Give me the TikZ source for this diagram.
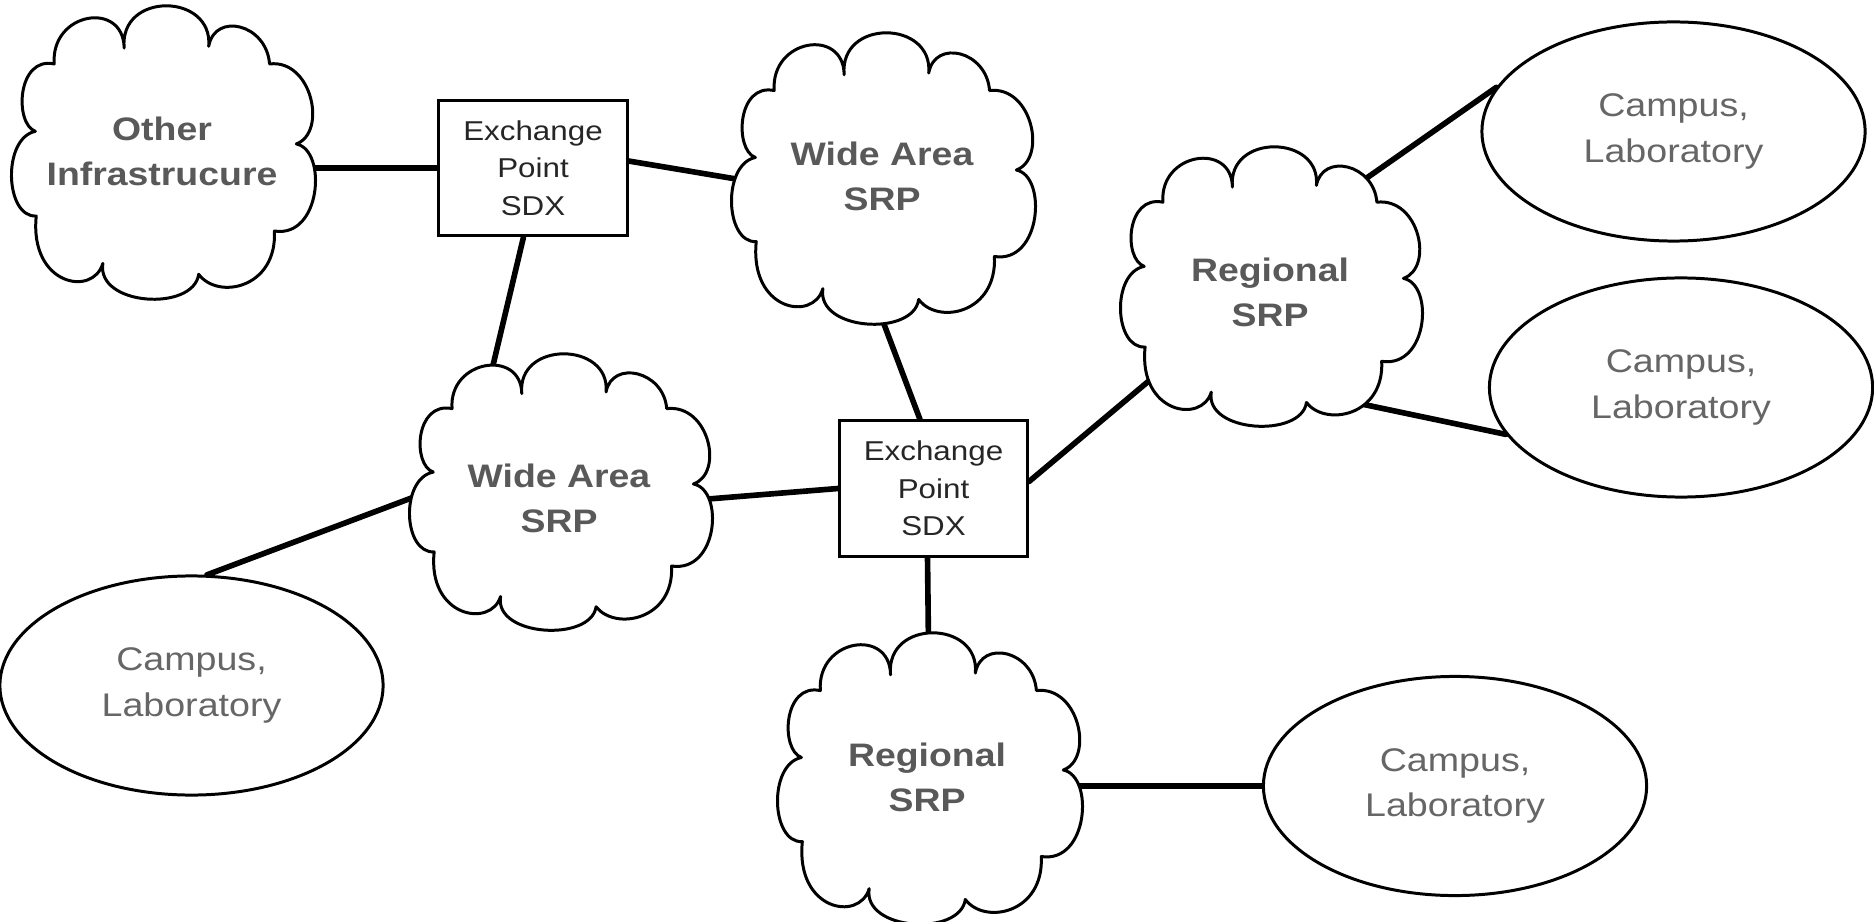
\documentclass[tikz,border=0pt]{standalone}
\usepackage{fontspec}
\setmainfont{Liberation Sans}[FakeStretch=1.15]
\usetikzlibrary{calc,shapes.geometric}
\pgfdeclarelayer{background}
\pgfsetlayers{background,main}

\definecolor{cloudgray}{RGB}{89,89,89}
\definecolor{sitegray}{RGB}{102,102,102}
\definecolor{boxgray}{RGB}{38,38,38}

\tikzset{
  cloudline/.style={draw=black, fill=white, line width=0.85pt, line join=round},
  cloudtext/.style={font=\fontsize{9.25}{12.8}\selectfont\bfseries, text=cloudgray,
    align=center, inner sep=1pt},
  sdxbox/.style={draw=black, fill=white, line width=0.85pt, minimum width=1.88cm,
    minimum height=1.35cm, inner sep=0pt, align=center,
    font=\fontsize{7.75}{10.7}\selectfont, text=boxgray},
  site/.style={ellipse, draw=black, fill=white, line width=0.85pt, minimum width=3.83cm,
    minimum height=2.19cm, inner sep=0pt, align=center,
    font=\fontsize{9.3}{12.9}\selectfont, text=sitegray},
  link/.style={line width=1.6pt, line cap=round},
}

% cloud outline in a unit box: #1,#2 top-left corner, #3 width (cm), #4 height (cm)
\newcommand\cloudat[4]{%
  \begin{scope}[shift={(#1,#2)}, x=#3cm, y=-#4cm]
    \path[cloudline] (0.08,0.426)
      .. controls (0.01,0.40) and (0.02,0.17) .. (0.142,0.197)
      .. controls (0.13,0.02) and (0.37,-0.02) .. (0.372,0.143)
      .. controls (0.355,-0.05) and (0.665,-0.045) .. (0.65,0.137)
      .. controls (0.67,0.02) and (0.84,0.06) .. (0.85,0.197)
      .. controls (0.99,0.18) and (1.04,0.43) .. (0.938,0.469)
      .. controls (1.04,0.49) and (1.02,0.79) .. (0.866,0.765)
      .. controls (0.875,0.96) and (0.68,1.0) .. (0.617,0.912)
      .. controls (0.60,1.04) and (0.28,1.02) .. (0.302,0.875)
      .. controls (0.27,0.99) and (0.06,0.95) .. (0.083,0.714)
      .. controls (-0.02,0.72) and (-0.03,0.45) .. cycle;
  \end{scope}}

\begin{document}
\begin{tikzpicture}[x=0.01cm, y=-0.01cm]
  \useasboundingbox (0,0) rectangle (1874,922);

  % clouds
  \cloudat{11}{6}{3.04}{2.94}
  \cloudat{731}{33}{3.04}{2.92}
  \cloudat{1120}{147}{3.02}{2.80}
  \cloudat{409}{354}{3.03}{2.77}
  \cloudat{777}{633}{3.05}{2.92}

  \node[cloudtext] (cA) at (162,151) {Other\\Infrastrucure};
  \node[cloudtext] (cB) at (882,176) {Wide Area\\SRP};
  \node[cloudtext] (cC) at (1270,292) {Regional\\SRP};
  \node[cloudtext] (cD) at (559,498) {Wide Area\\SRP};
  \node[cloudtext] (cE) at (927,777) {Regional\\SRP};

  % exchange points
  \node[sdxbox] (b1) at (533,168) {Exchange\\Point\\SDX};
  \node[sdxbox] (b2) at (933.5,488.5) {Exchange\\Point\\SDX};

  % sites
  \node[site] (e1) at (1673.5,131.5) {Campus,\\Laboratory};
  \node[site] (e2) at (1681,387.5) {Campus,\\Laboratory};
  \node[site] (e3) at (191.5,685.5) {Campus,\\Laboratory};
  \node[site] (e4) at (1455,786) {Campus,\\Laboratory};

  % links, tucked behind the shapes
  \begin{pgfonlayer}{background}
    \draw[link] (b1.west) -- (b1.west -| cA);
    \draw[link] ($(b1.east)+(0,-7)$) -- ($(cB)+(-92,12)$);
    \draw[link] ($(b1.south)+(-9.5,0)$) -- ($(cD)+(-79,-78)$);
    \draw[link] ($(cB)+(-26,74)$) -- ($(b2.north)+(-13.5,0)$);
    \draw[link] ($(cD)+(81,6.5)$) -- (b2.west);
    \draw[link] ($(b2.east)+(0,-7)$) -- ($(cC)+(-70,46)$);
    \draw[link] ($(cC)+(29.5,-67)$) -- (e1.166);
    \draw[link] ($(cC)+(23,97.6)$) -- (e2.195);
    \draw[link] ($(b2.south)+(-6,0)$) -- ($(cE)+(2,-87)$);
    \draw[link] (e4.west) -- (e4.west -| cE);
    \draw[link] ($(cD)+(-89,-22)$) -- (e3.82);
  \end{pgfonlayer}
\end{tikzpicture}
\end{document}
